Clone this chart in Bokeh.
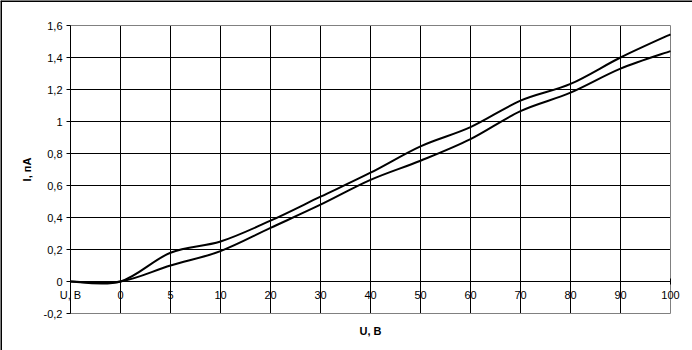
from bokeh.plotting import figure
from bokeh.models import Range1d, FixedTicker, Label, Span, ColumnDataSource
from bokeh.embed import file_html
from bokeh.resources import INLINE

# ---- data ----
categories = ["U, B", "0", "5", "10", "20", "30", "40", "50", "60", "70", "80", "90", "100"]
series_upper = [0, 0, 0.18, 0.25, 0.38, 0.53, 0.68, 0.845, 0.965, 1.13, 1.235, 1.40, 1.545]
series_lower = [0, 0, 0.10, 0.19, 0.335, 0.48, 0.635, 0.755, 0.89, 1.065, 1.18, 1.33, 1.44]
y_ticks = [-0.2, 0, 0.2, 0.4, 0.6, 0.8, 1, 1.2, 1.4, 1.6]
y_tick_labels = ["-0,2", "0", "0,2", "0,4", "0,6", "0,8", "1", "1,2", "1,4", "1,6"]
x_title = "U, B"
y_title = "I, пА"

FONT = "Liberation Sans"
W, H = 692, 350
# plot-area placement on the canvas (pixels)
PL, PR, PT, PB = 70, 670, 25, 313

positions = list(range(len(categories)))
x0, x1 = positions[0], positions[-1]
y0, y1 = y_ticks[0], y_ticks[-1]
kx = (PR - PL) / (x1 - x0)
ky = (PB - PT) / (y1 - y0)
xr = Range1d(x0 - PL / kx, x1 + (W - PR) / kx)
yr = Range1d(y0 - (H - PB) / ky, y1 + PT / ky)


def smooth_segments(xs, ys):
    """Cubic Bezier segments (Catmull-Rom style smoothing) through the points."""
    n = len(xs)
    d = dict(x0=[], y0=[], x1=[], y1=[], cx0=[], cy0=[], cx1=[], cy1=[])
    for i in range(n - 1):
        a = i - 1 if i > 0 else i
        b = i + 2 if i + 2 < n else i + 1
        d["x0"].append(xs[i]); d["y0"].append(ys[i])
        d["x1"].append(xs[i + 1]); d["y1"].append(ys[i + 1])
        d["cx0"].append(xs[i] + (xs[i + 1] - xs[a]) / 6)
        d["cy0"].append(ys[i] + (ys[i + 1] - ys[a]) / 6)
        d["cx1"].append(xs[i + 1] - (xs[b] - xs[i]) / 6)
        d["cy1"].append(ys[i + 1] - (ys[b] - ys[i]) / 6)
    return ColumnDataSource(d)


p = figure(width=W, height=H, output_backend="svg", toolbar_location=None,
           x_range=xr, y_range=yr,
           min_border_left=0, min_border_right=0, min_border_top=0, min_border_bottom=0)
p.background_fill_color = "white"
p.border_fill_color = "white"
p.outline_line_color = None
p.xgrid.visible = False
p.ygrid.visible = False

# grid lines limited to the plot area
vx = positions[1:-1]
p.segment(x0=vx, x1=vx, y0=[y0] * len(vx), y1=[y1] * len(vx), line_color="black", line_width=1)
hy = y_ticks[1:-1]
p.segment(x0=[x0] * len(hy), x1=[x1] * len(hy), y0=hy, y1=hy, line_color="black", line_width=1)

# plot-area border (grey)
p.quad(left=[x0], right=[x1], bottom=[y0], top=[y1], fill_color=None,
       line_color="#808080", line_width=1)

for ser in (series_upper, series_lower):
    p.bezier(x0="x0", y0="y0", x1="x1", y1="y1", cx0="cx0", cy0="cy0", cx1="cx1", cy1="cy1",
             source=smooth_segments(positions, ser), line_color="black", line_width=2)

# x axis crossing at y = 0
xa = p.xaxis[0]
xa.fixed_location = 0
xa.bounds = (x0, x1)
xa.ticker = FixedTicker(ticks=positions)
xa.major_label_overrides = {i: c for i, c in zip(positions, categories)}
xa.axis_line_color = "black"
xa.major_tick_line_color = "black"
xa.major_tick_in = 3
xa.major_tick_out = 3
xa.minor_tick_line_color = None
xa.major_label_standoff = 4
xa.major_label_text_font = FONT
xa.major_label_text_font_size = "11px"
xa.major_label_text_color = "black"

# y axis at the first category
ya = p.yaxis[0]
ya.fixed_location = x0
ya.bounds = (y0, y1)
ya.ticker = FixedTicker(ticks=y_ticks)
ya.major_label_overrides = {t: l for t, l in zip(y_ticks, y_tick_labels)}
ya.axis_line_color = "black"
ya.major_tick_line_color = "black"
ya.major_tick_in = 0
ya.major_tick_out = 4
ya.minor_tick_line_color = None
ya.major_label_standoff = 4
ya.major_label_text_font = FONT
ya.major_label_text_font_size = "11px"
ya.major_label_text_color = "black"
ya.axis_label = y_title
ya.axis_label_text_font = FONT
ya.axis_label_text_font_size = "11px"
ya.axis_label_text_font_style = "bold"
ya.axis_label_text_color = "black"
ya.axis_label_standoff = 8

p.add_layout(Label(x=(x0 + x1) / 2, y=y0 - 17 / ky, text=x_title,
                   text_font=FONT, text_font_size="11px", text_font_style="bold",
                   text_align="center", text_baseline="middle", text_color="black"))

# outer chart border (left and top edges)
p.add_layout(Span(location=xr.start, dimension="height", line_color="black", line_width=3))
p.add_layout(Span(location=yr.end, dimension="width", line_color="black", line_width=3))

open("out.html", "w").write(file_html(p, INLINE))
